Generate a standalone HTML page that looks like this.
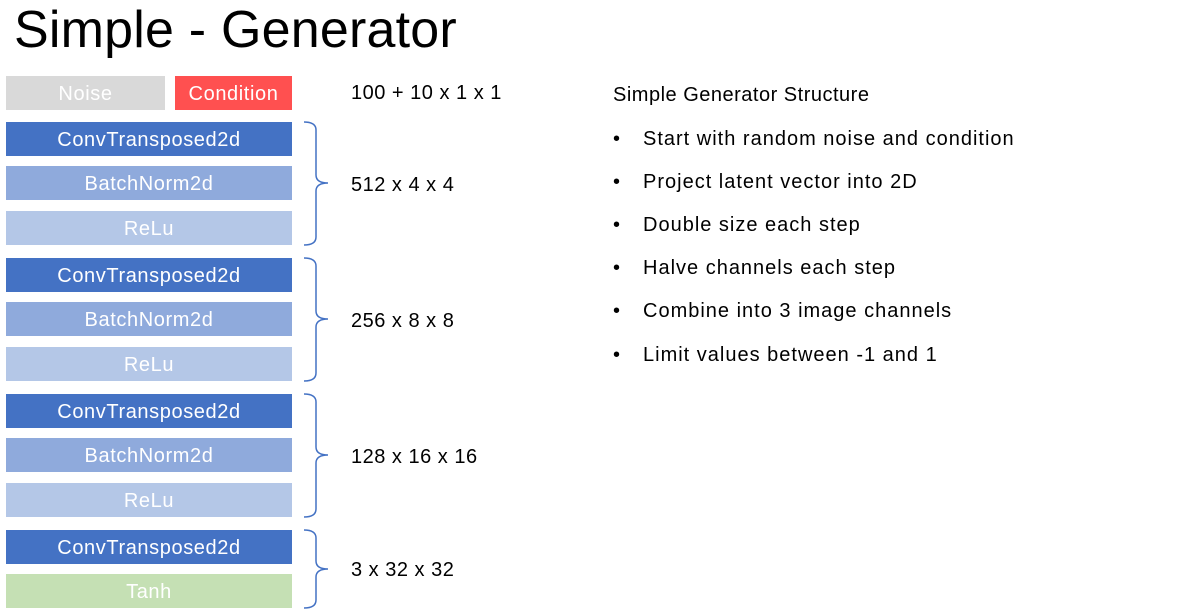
<!DOCTYPE html>
<html><head><style>
body{margin:0;width:1196px;height:616px;background:#fff;position:relative;overflow:hidden;font-family:"Liberation Sans",sans-serif}
.b{position:absolute;height:34px;line-height:36px;text-align:center;color:#fff;font-size:20px;letter-spacing:0.6px}
.c{background:#4472c4}.n{background:#8faadc}.r{background:#b4c7e7}
.t{position:absolute;font-size:20px;color:#000;letter-spacing:0.5px}
.w{letter-spacing:1px}
</style></head><body>
<div class="t" style="left:14px;top:0px;font-size:52px;letter-spacing:0.2px">Simple - Generator</div>
<div class="b" style="left:6px;width:159px;top:76px;background:#d9d9d9">Noise</div>
<div class="b" style="left:175px;width:117px;top:76px;background:#ff5050">Condition</div>

<div class="b c" style="left:6px;width:286px;top:122px">ConvTransposed2d</div>
<div class="b n" style="left:6px;width:286px;top:166px">BatchNorm2d</div>
<div class="b r" style="left:6px;width:286px;top:211px">ReLu</div>
<div class="b c" style="left:6px;width:286px;top:258px">ConvTransposed2d</div>
<div class="b n" style="left:6px;width:286px;top:302px">BatchNorm2d</div>
<div class="b r" style="left:6px;width:286px;top:347px">ReLu</div>
<div class="b c" style="left:6px;width:286px;top:394px">ConvTransposed2d</div>
<div class="b n" style="left:6px;width:286px;top:438px">BatchNorm2d</div>
<div class="b r" style="left:6px;width:286px;top:483px">ReLu</div>
<div class="b c" style="left:6px;width:286px;top:530px">ConvTransposed2d</div>
<div class="b" style="left:6px;width:286px;top:574px;background:#c5e0b4">Tanh</div>

<svg style="position:absolute;left:0;top:0" width="1196" height="616">
<g fill="none" stroke="#4472c4" stroke-width="1.5">
<path d="M304,122 Q316,122 316,130 L316,175 Q316,183 328,183 Q316,183 316,191 L316,237 Q316,245 304,245"/>
<path d="M304,258 Q316,258 316,266 L316,311 Q316,319 328,319 Q316,319 316,327 L316,373 Q316,381 304,381"/>
<path d="M304,394 Q316,394 316,402 L316,447 Q316,455 328,455 Q316,455 316,463 L316,509 Q316,517 304,517"/>
<path d="M304,530 Q316,530 316,538 L316,561 Q316,569 328,569 Q316,569 316,577 L316,600 Q316,608 304,608"/>
</g></svg>

<div class="t" style="left:351px;top:82px">100 + 10 x 1 x 1</div>
<div class="t" style="left:351px;top:174px">512 x 4 x 4</div>
<div class="t" style="left:351px;top:310px">256 x 8 x 8</div>
<div class="t" style="left:351px;top:446px">128 x 16 x 16</div>
<div class="t" style="left:351px;top:559px">3 x 32 x 32</div>

<div class="t" style="left:613px;top:84px">Simple Generator Structure</div>
<div class="t" style="left:613px;top:128px">•</div><div class="t w" style="left:643px;top:128px">Start with random noise and condition</div>
<div class="t" style="left:613px;top:171px">•</div><div class="t w" style="left:643px;top:171px">Project latent vector into 2D</div>
<div class="t" style="left:613px;top:214px">•</div><div class="t w" style="left:643px;top:214px">Double size each step</div>
<div class="t" style="left:613px;top:257px">•</div><div class="t w" style="left:643px;top:257px">Halve channels each step</div>
<div class="t" style="left:613px;top:300px">•</div><div class="t w" style="left:643px;top:300px">Combine into 3 image channels</div>
<div class="t" style="left:613px;top:344px">•</div><div class="t w" style="left:643px;top:344px">Limit values between -1 and 1</div>
</body></html>
